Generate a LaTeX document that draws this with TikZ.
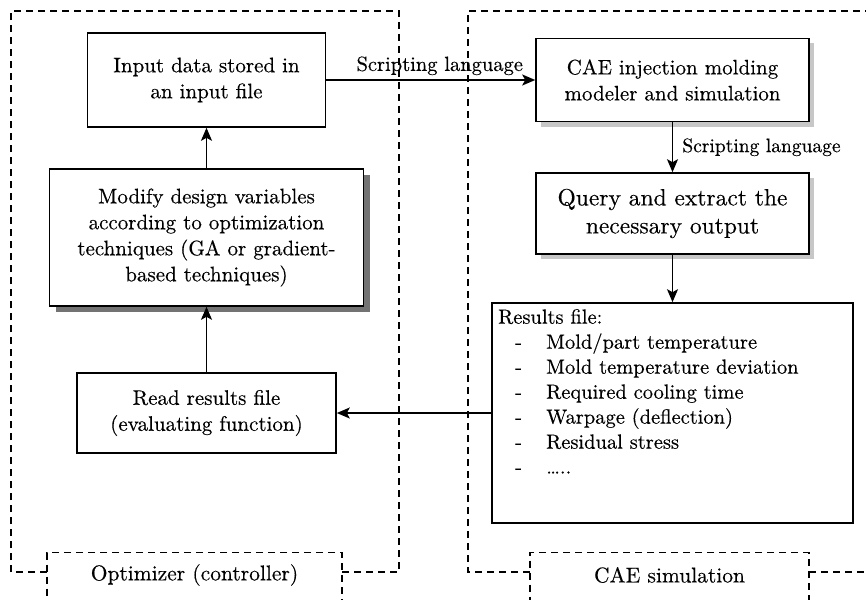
\documentclass[tikz,border=0pt]{standalone}
\usepackage{fontspec}
\setmainfont{lmroman10-regular.otf}[FakeBold=0.3]
\usetikzlibrary{arrows.meta,shadows}
\begin{document}
\begin{tikzpicture}[x=1pt,y=-1pt,
  box/.style={draw,line width=1.6pt,fill=white,align=center,inner sep=0pt,font=\fontsize{21}{26}\selectfont},
  lightsh/.style={general shadow={fill=black!22,shadow xshift=5pt,shadow yshift=-5pt}},
  darksh/.style={general shadow={fill=black!55,shadow xshift=6pt,shadow yshift=-6pt}},
  grp/.style={line width=1.4pt,dash pattern=on 7pt off 5pt},
  arr/.style={-{Stealth[length=13pt,width=11pt,inset=3pt]},line width=1.7pt},
  lbl/.style={font=\fontsize{20.5}{24}\selectfont,inner sep=1pt},
  grplab/.style={font=\fontsize{21.5}{26}\selectfont,inner sep=0pt}
]
\useasboundingbox (0,0) rectangle (866,599);
\clip (0,0) rectangle (866,599);

% group frames
\draw[grp] (47,572) -- (11,572) -- (11,11) -- (399,11) -- (399,572) -- (342,572);
\draw[grp] (530,572) -- (468,572) -- (468,11) -- (880,11);
\draw[grp] (809,572) -- (880,572);
\node[grp,draw,minimum width=295pt,minimum height=70pt,anchor=north] (optbox) at (194.5,552) {};
\node[grp,draw,minimum width=279pt,minimum height=70pt,anchor=north] (caebox) at (669.5,552) {};
\node[grplab] (optlab) at (194.5,575) {Optimizer (controller)};
\node[grplab] (caelab) at (669.5,575) {CAE simulation};

% boxes
\node[box,minimum width=238pt,minimum height=94pt] (in) at (206.5,80) {Input data stored in\\an input file};
\node[box,darksh,minimum width=314pt,minimum height=137pt] (mod) at (206.5,237.5) {Modify design variables\\according to optimization\\techniques (GA or gradient-\\based techniques)};
\node[box,minimum width=259pt,minimum height=80pt] (read) at (206.5,413) {Read results file\\(evaluating function)};
\node[box,lightsh,minimum width=273pt,minimum height=83pt] (cae) at (672.5,80) {CAE injection molding\\modeler and simulation};
\node[box,lightsh,minimum width=273pt,minimum height=81pt,font=\fontsize{23.5}{28}\selectfont] (qry) at (672.5,213.5) {Query and extract the\\necessary output};
\node[box,minimum width=361pt,minimum height=220pt] (res) at (672.5,413) {};
\node[align=left,inner sep=0pt,anchor=north west,font=\fontsize{20.5}{25}\selectfont] (restxt) at (498,309)
 {Results file:\\
  \makebox[48pt][l]{\hspace{17pt}-}Mold/part temperature\\
  \makebox[48pt][l]{\hspace{17pt}-}Mold temperature deviation\\
  \makebox[48pt][l]{\hspace{17pt}-}Required cooling time\\
  \makebox[48pt][l]{\hspace{17pt}-}Warpage (deflection)\\
  \makebox[48pt][l]{\hspace{17pt}-}Residual stress\\
  \makebox[48pt][l]{\hspace{17pt}-}\ldots..};

% connectors
\draw[arr] (in.east) -- node[lbl,above=3pt,xshift=9pt] (l1) {Scripting language} (cae.west);
\draw[arr] (cae.south) -- node[lbl,right=8pt,font=\fontsize{19.5}{22}\selectfont] (l2) {Scripting language} (qry.north);
\draw[arr] (qry.south) -- (res.north);
\draw[arr] (res.west) -- (read.east);
\draw[arr] (read.north) -- (mod.south);
\draw[arr] (mod.north) -- (in.south);
\end{tikzpicture}
\end{document}
